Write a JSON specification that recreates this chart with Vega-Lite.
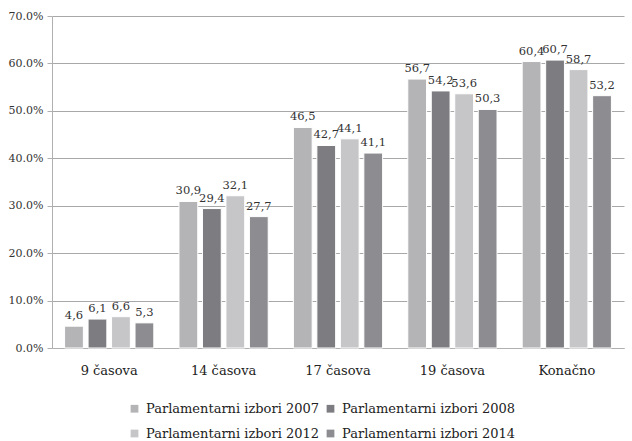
{
  "$schema": "https://vega.github.io/schema/vega-lite/v6.json",
  "autosize": {"type": "none"},
  "width": 572,
  "height": 332,
  "padding": {"left": 52, "top": 16, "right": 8, "bottom": 93},
  "background": "white",
  "config": {
    "font": "DejaVu Serif",
    "view": {"stroke": null}
  },
  "data": {
    "values": [
      {"cat": "9 časova", "series": "Parlamentarni izbori 2007", "v": 4.6, "lbl": "4,6"},
      {"cat": "9 časova", "series": "Parlamentarni izbori 2008", "v": 6.1, "lbl": "6,1"},
      {"cat": "9 časova", "series": "Parlamentarni izbori 2012", "v": 6.6, "lbl": "6,6"},
      {"cat": "9 časova", "series": "Parlamentarni izbori 2014", "v": 5.3, "lbl": "5,3"},
      {"cat": "14 časova", "series": "Parlamentarni izbori 2007", "v": 30.9, "lbl": "30,9"},
      {"cat": "14 časova", "series": "Parlamentarni izbori 2008", "v": 29.4, "lbl": "29,4"},
      {"cat": "14 časova", "series": "Parlamentarni izbori 2012", "v": 32.1, "lbl": "32,1"},
      {"cat": "14 časova", "series": "Parlamentarni izbori 2014", "v": 27.7, "lbl": "27,7"},
      {"cat": "17 časova", "series": "Parlamentarni izbori 2007", "v": 46.5, "lbl": "46,5"},
      {"cat": "17 časova", "series": "Parlamentarni izbori 2008", "v": 42.7, "lbl": "42,7"},
      {"cat": "17 časova", "series": "Parlamentarni izbori 2012", "v": 44.1, "lbl": "44,1"},
      {"cat": "17 časova", "series": "Parlamentarni izbori 2014", "v": 41.1, "lbl": "41,1"},
      {"cat": "19 časova", "series": "Parlamentarni izbori 2007", "v": 56.7, "lbl": "56,7"},
      {"cat": "19 časova", "series": "Parlamentarni izbori 2008", "v": 54.2, "lbl": "54,2"},
      {"cat": "19 časova", "series": "Parlamentarni izbori 2012", "v": 53.6, "lbl": "53,6"},
      {"cat": "19 časova", "series": "Parlamentarni izbori 2014", "v": 50.3, "lbl": "50,3"},
      {"cat": "Konačno", "series": "Parlamentarni izbori 2007", "v": 60.4, "lbl": "60,4"},
      {"cat": "Konačno", "series": "Parlamentarni izbori 2008", "v": 60.7, "lbl": "60,7"},
      {"cat": "Konačno", "series": "Parlamentarni izbori 2012", "v": 58.7, "lbl": "58,7"},
      {"cat": "Konačno", "series": "Parlamentarni izbori 2014", "v": 53.2, "lbl": "53,2"}
    ]
  },
  "encoding": {
    "x": {
      "field": "cat", "type": "nominal", "sort": null,
      "scale": {"paddingInner": 0.22, "paddingOuter": 0.11},
      "axis": {"title": null, "labelAngle": 0, "ticks": false, "domainColor": "#b0b0b0", "labelFontSize": 13, "labelColor": "#222", "labelPadding": 16}
    },
    "xOffset": {"field": "series", "type": "nominal", "scale": {"paddingInner": 0.2}},
    "y": {
      "field": "v", "type": "quantitative",
      "scale": {"domain": [0, 70], "nice": false},
      "axis": {"title": null, "values": [0, 10, 20, 30, 40, 50, 60, 70], "labelExpr": "format(datum.value, '.1f') + '%'", "gridColor": "#a8a8a8", "domainColor": "#b0b0b0", "tickColor": "#b0b0b0", "tickSize": 5, "labelFontSize": 11, "labelColor": "#333", "labelPadding": 4}
    }
  },
  "layer": [
    {
      "mark": {"type": "bar", "stroke": "white", "strokeWidth": 1},
      "encoding": {
        "color": {
          "field": "series", "type": "nominal",
          "scale": {"range": ["#b4b4b6", "#7d7d81", "#c6c6c8", "#8d8d91"]},
          "legend": {"title": null, "orient": "none", "legendX": 76, "legendY": 386, "columns": 2, "direction": "horizontal", "symbolType": "square", "symbolSize": 60, "symbolStrokeWidth": 0, "labelFontSize": 13, "labelColor": "#222", "labelLimit": 0, "columnPadding": 4, "rowPadding": 11, "labelOffset": 5}
        }
      }
    },
    {
      "mark": {"type": "text", "baseline": "bottom", "dy": -5, "fontSize": 11.5, "color": "#333"},
      "encoding": {"text": {"field": "lbl"}}
    }
  ]
}
